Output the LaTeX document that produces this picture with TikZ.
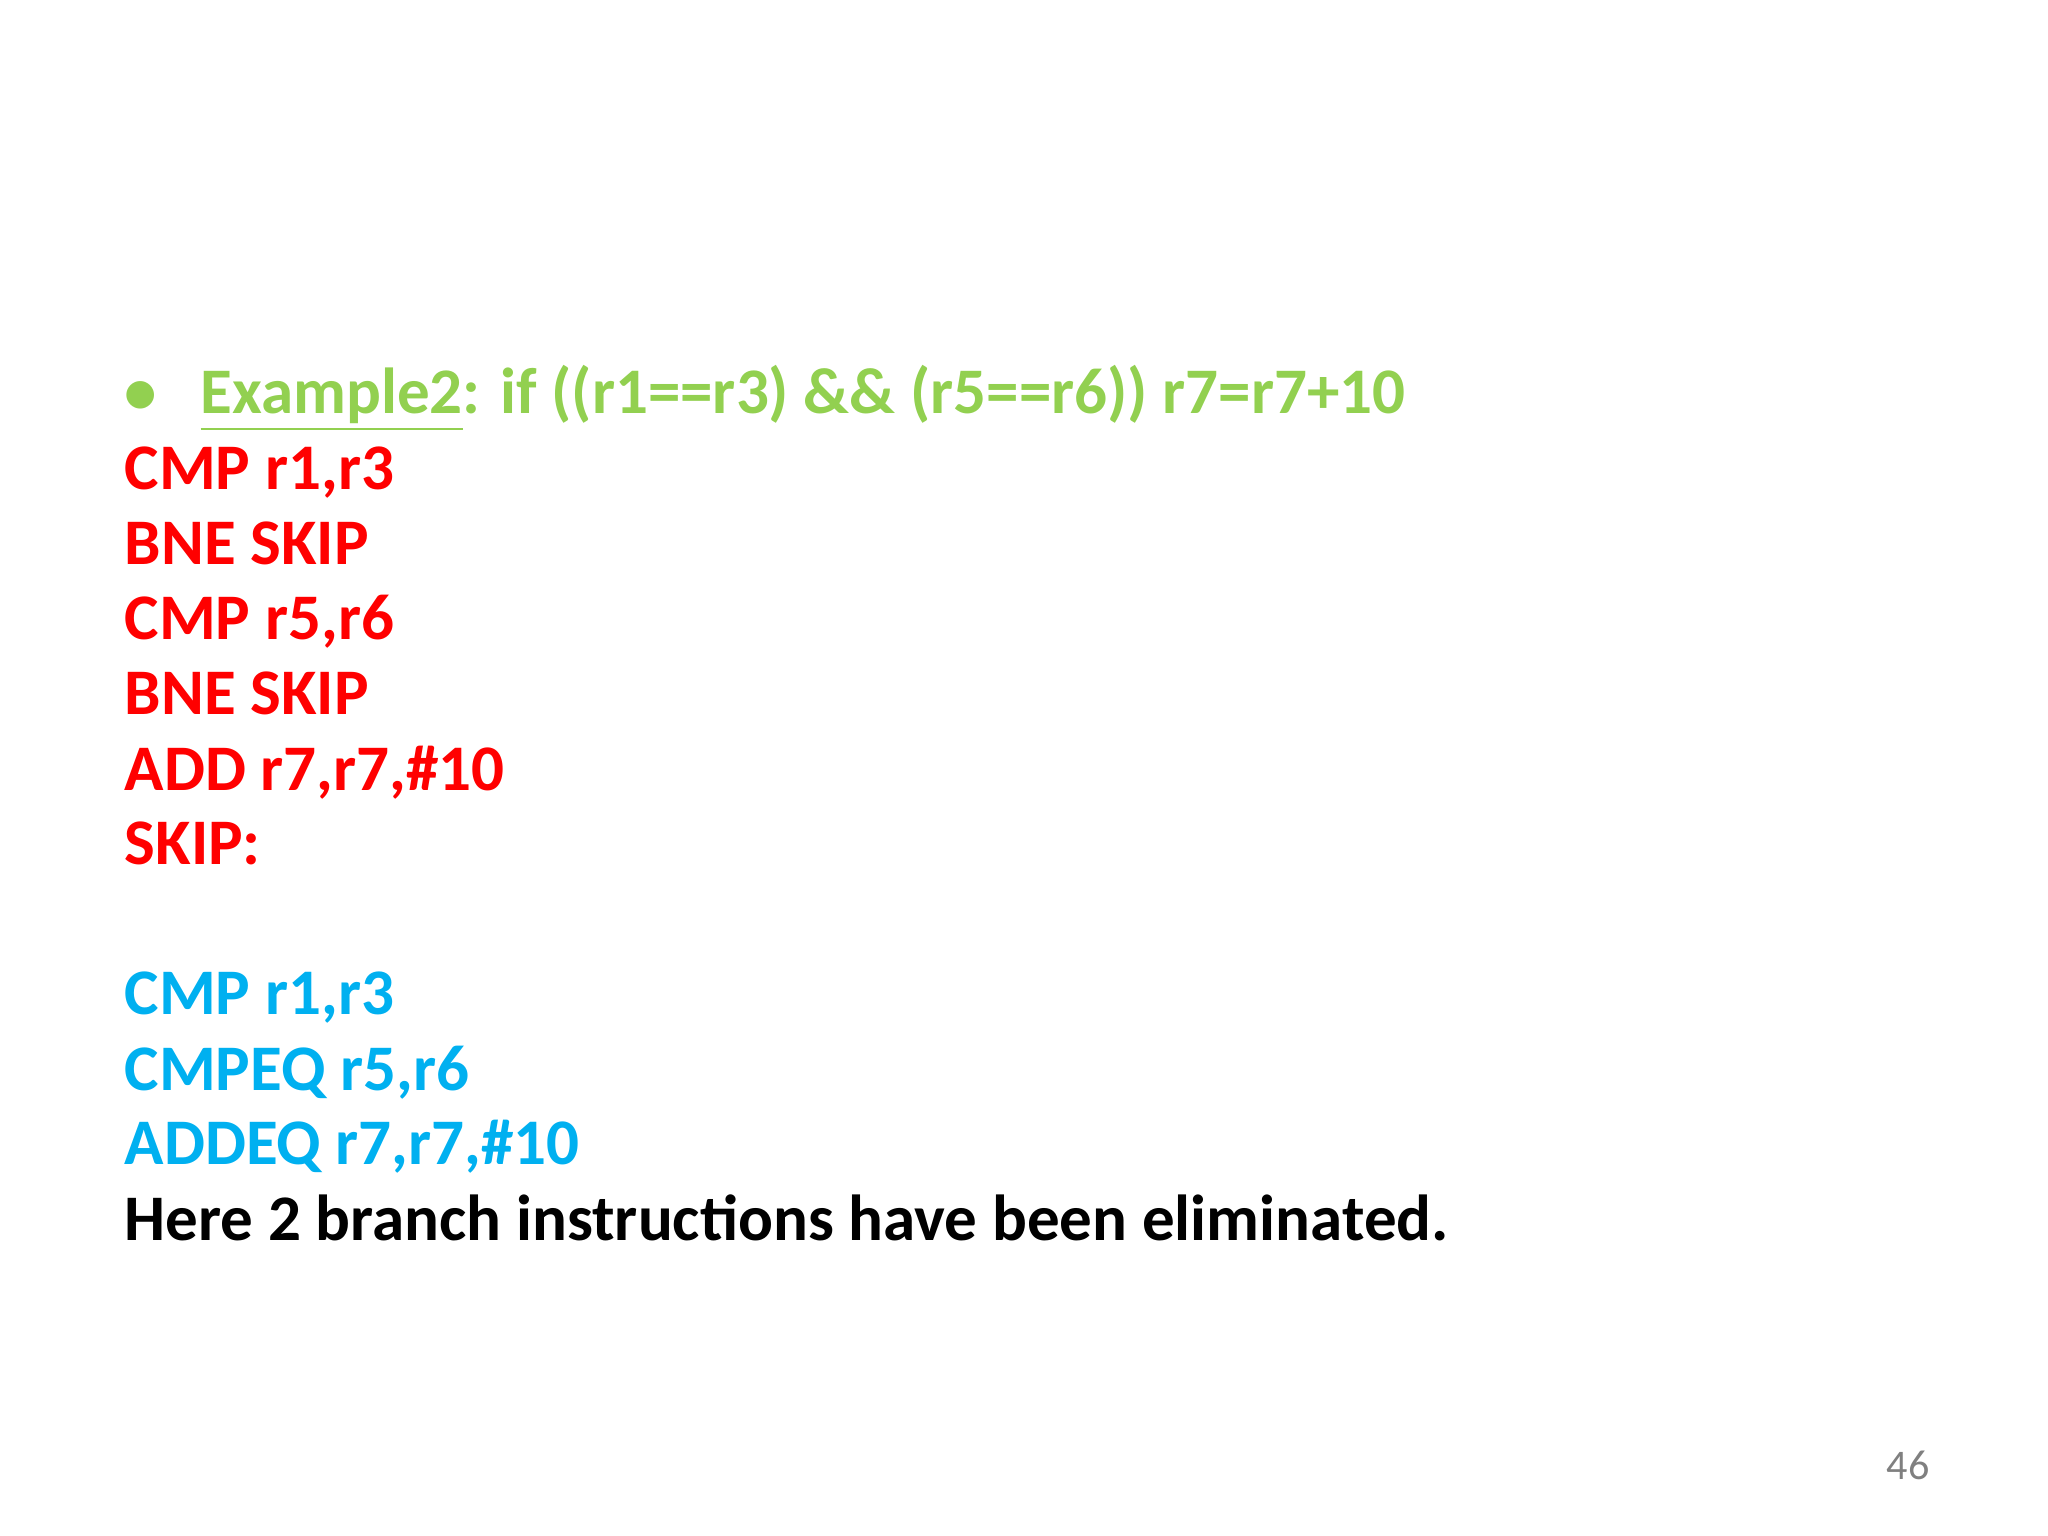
\documentclass[tikz,border=0pt]{standalone}
\usepackage{fontspec}
\setmainfont{Carlito}
\definecolor{tgreen}{HTML}{92D050}
\definecolor{tred}{HTML}{FF0000}
\definecolor{tblue}{HTML}{00B0F0}
\begin{document}
\begin{tikzpicture}[x=1cm,y=1cm,
  ln/.style={anchor=base west,inner sep=0pt,font=\fontsize{18.5}{22}\selectfont\bfseries}]
\useasboundingbox (0,0) rectangle (20.48,15.36);
\node[ln,tgreen] (b) at (1.24,15.36-3.94-0.2) {•};
\node[ln,tgreen] (t) at (2.00,15.36-3.94-0.2) {\underline{Example2}: if ((r1==r3) \&\& (r5==r6)) r7=r7+10};
\node[ln,tred] (l1) at (1.24,15.36-4.70-0.2) {CMP r1,r3};
\node[ln,tred] (l2) at (1.24,15.36-5.45-0.2) {BNE SKIP};
\node[ln,tred] (l3) at (1.24,15.36-6.20-0.2) {CMP r5,r6};
\node[ln,tred] (l4) at (1.24,15.36-6.95-0.2) {BNE SKIP};
\node[ln,tred] (l5) at (1.24,15.36-7.71-0.2) {ADD r7,r7,\#10};
\node[ln,tred] (l6) at (1.24,15.36-8.45-0.2) {SKIP:};
\node[ln,tblue] (m1) at (1.24,15.36-9.95-0.2) {CMP r1,r3};
\node[ln,tblue] (m2) at (1.24,15.36-10.71-0.2) {CMPEQ r5,r6};
\node[ln,tblue] (m3) at (1.24,15.36-11.45-0.2) {ADDEQ r7,r7,\#10};
\node[ln,black] (h) at (1.24,15.36-12.21-0.2) {Here 2 branch instructions have been eliminated.};
\node[font=\fontsize{12}{14}\selectfont,text=gray] (p) at (19.08,15.36-14.65) {46};
\end{tikzpicture}
\end{document}
